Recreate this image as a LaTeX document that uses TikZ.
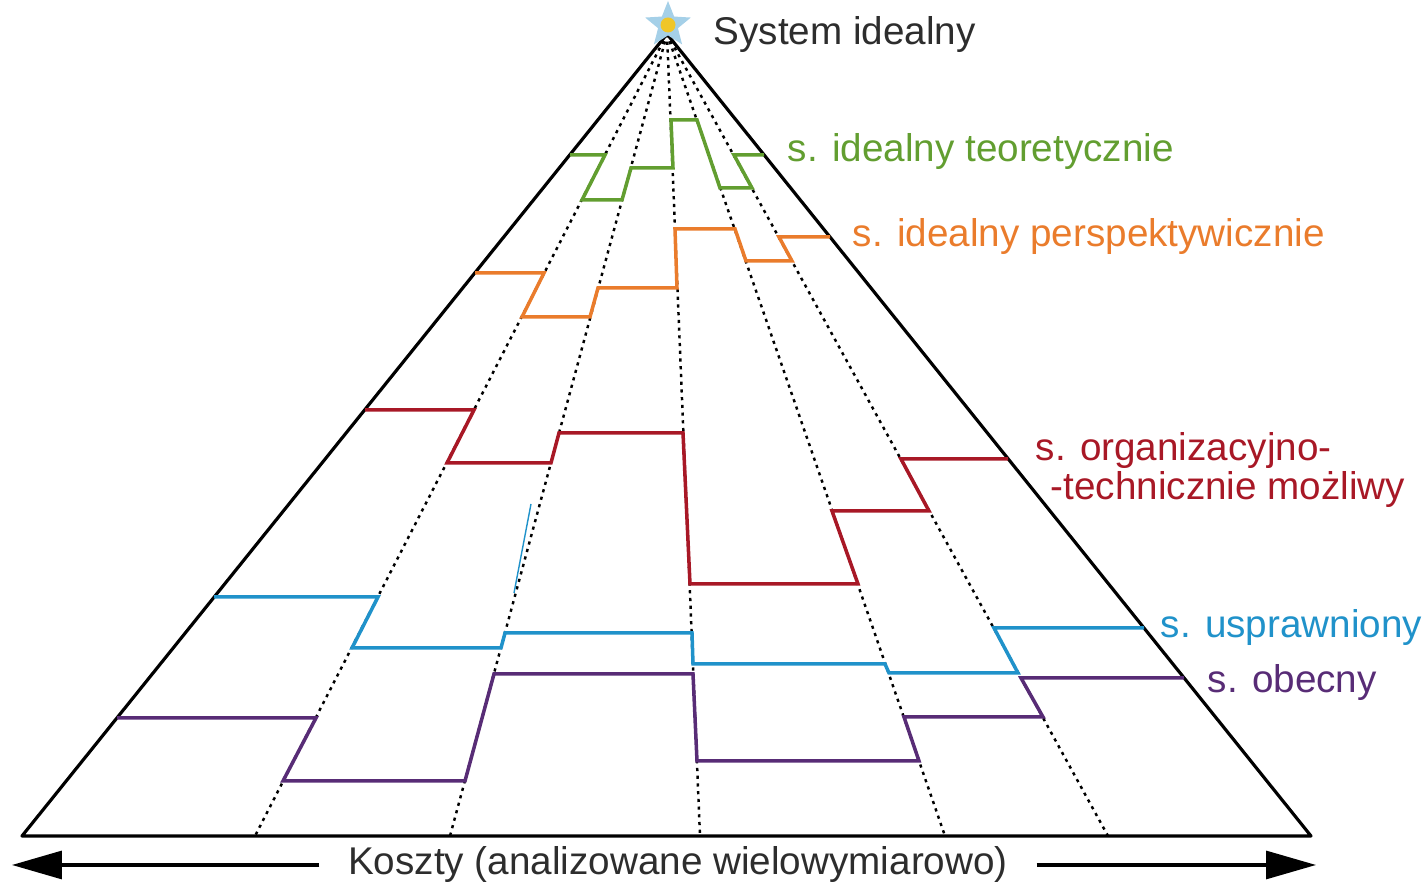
\documentclass[tikz,border=0pt]{standalone}
\usepackage{fontspec}
\setmainfont{Liberation Sans}
\usetikzlibrary{arrows.meta,shapes.geometric}
\definecolor{lvlgreen}{RGB}{98,158,48}
\definecolor{lvlorange}{RGB}{234,124,44}
\definecolor{lvlred}{RGB}{168,24,38}
\definecolor{lvlblue}{RGB}{32,146,202}
\definecolor{lvlpurple}{RGB}{88,44,118}
\definecolor{starblue}{RGB}{165,208,232}
\definecolor{staryellow}{RGB}{240,198,40}
\definecolor{txtgray}{RGB}{45,45,45}
\begin{document}
\begin{tikzpicture}[
  edge/.style={line width=0.9pt,line join=round},
  ray/.style={line width=0.7pt,dash pattern=on 0.9pt off 1.3pt},
  stair/.style={line width=1pt},
  lbl/.style={anchor=west,inner sep=0pt,font=\fontsize{11}{13}\selectfont}
]
\useasboundingbox (0,0) rectangle (14.28,8.87);
\coordinate (apex) at (6.67,8.53);
\coordinate (left) at (0.22,0.51);
\coordinate (right) at (13.11,0.51);
% Rays from the top
\foreach \x in {2.55,4.50,7.00,9.45,11.08}
  \draw[ray] (apex) -- (\x,0.51);
% Triangle
\draw[edge] (left) -- (apex) -- (right) -- cycle;
% Stray stroke
\draw[lvlblue,line width=0.4pt] (5.31,3.83) -- (5.14,2.94);
% Levels
\draw[stair,lvlgreen] (5.70,7.32) -- (6.05,7.32) -- (5.82,6.87) -- (6.22,6.87) -- (6.31,7.19) -- (6.73,7.19) -- (6.71,7.67) -- (6.97,7.67) -- (7.20,6.99) -- (7.52,6.99) -- (7.34,7.32) -- (7.64,7.32);
\draw[stair,lvlorange] (4.75,6.14) -- (5.44,6.14) -- (5.22,5.70) -- (5.90,5.70) -- (5.98,5.99) -- (6.77,5.99) -- (6.75,6.58) -- (7.35,6.58) -- (7.46,6.26) -- (7.92,6.26) -- (7.79,6.50) -- (8.30,6.50);
\draw[stair,lvlred] (3.65,4.77) -- (4.74,4.77) -- (4.47,4.24) -- (5.51,4.24) -- (5.59,4.54) -- (6.83,4.54) -- (6.90,3.03) -- (8.58,3.03) -- (8.32,3.76) -- (9.29,3.76) -- (9.01,4.28) -- (10.08,4.28);
\draw[stair,lvlblue] (2.14,2.90) -- (3.78,2.90) -- (3.52,2.39) -- (5.01,2.39) -- (5.05,2.54) -- (6.92,2.54) -- (6.93,2.23) -- (8.85,2.23) -- (8.89,2.14) -- (10.18,2.14) -- (9.94,2.59) -- (11.44,2.59);
\draw[stair,lvlpurple] (1.17,1.69) -- (3.16,1.69) -- (2.83,1.06) -- (4.65,1.06) -- (4.94,2.13) -- (6.93,2.13) -- (6.97,1.26) -- (9.19,1.26) -- (9.04,1.70) -- (10.43,1.70) -- (10.21,2.09) -- (11.84,2.09);
% Star
\node[star,star points=5,star point ratio=2.3,minimum size=0.48cm,inner sep=0pt,fill=starblue] (star) at (6.68,8.62) {};
\fill[staryellow] (star.center) circle (0.075);
% Labels
\node[lbl,txtgray] (ideal) at (7.13,8.52) {System idealny};
\node[lbl,lvlgreen] (theor) at (7.87,7.35) {s. idealny teoretycznie};
\node[lbl,lvlorange] (persp) at (8.52,6.50) {s. idealny perspektywicznie};
\node[lbl,lvlred] (orgA) at (10.35,4.36) {s. organizacyjno-};
\node[lbl,lvlred] (orgB) at (10.50,3.97) {-technicznie możliwy};
\node[lbl,lvlblue] (impr) at (11.60,2.59) {s. usprawniony};
\node[lbl,lvlpurple] (curr) at (12.07,2.04) {s. obecny};
% Cost axis
\node[font=\fontsize{11}{13}\selectfont,txtgray,inner ysep=0pt,inner xsep=8pt] (costs) at (6.78,0.22) {Koszty (analizowane wielowymiarowo)};
\coordinate (costL) at (0.12,0.22);
\coordinate (costR) at (13.16,0.22);
\draw[line width=0.9pt,-{Triangle[length=5mm,width=2.8mm]}] (costs.west) -- (costL);
\draw[line width=0.9pt,-{Triangle[length=5mm,width=2.8mm]}] (costs.east) -- (costR);
\end{tikzpicture}
\end{document}
